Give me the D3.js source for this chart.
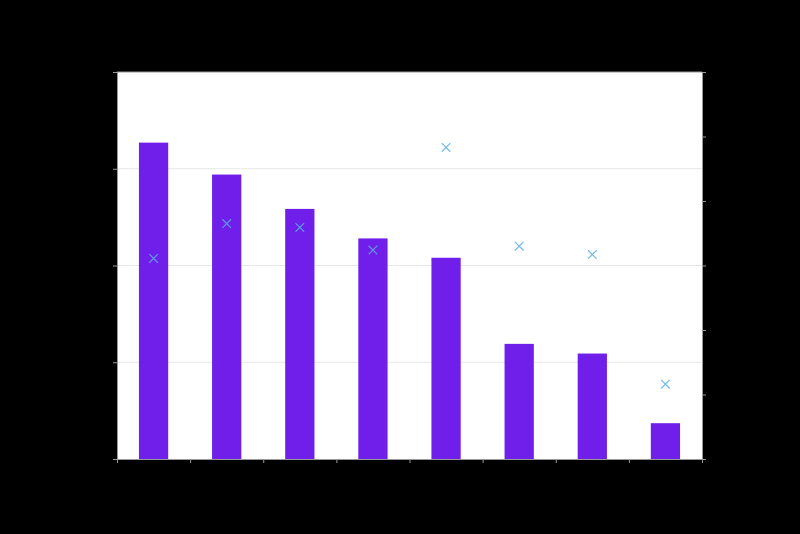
<!DOCTYPE html>
<html>
<head>
<meta charset="utf-8">
<script src="https://cdn.jsdelivr.net/npm/d3@7"></script>
<style>
  html, body { margin: 0; padding: 0; background: #000; }
  svg { display: block; }
  text { font-family: "DejaVu Sans", sans-serif; font-size: 11px; }
</style>
</head>
<body>
<svg id="chart" width="800" height="534"></svg>
<script>
// Data (axis labels are black on black in the original)
var categories = ["1", "2", "3", "4", "5", "6", "7", "8"];
var barValues = [3.27, 2.94, 2.585, 2.28, 2.08, 1.19, 1.09, 0.37];
var markerValues = [3.11, 3.65, 3.59, 3.24, 4.83, 3.30, 3.17, 1.16];
var leftTicks = [0, 1, 2, 3, 4];
var rightTicks = [0, 1, 2, 3, 4, 5, 6];

var svg = d3.select("#chart");

const margin = { top: 72, right: 98, bottom: 75, left: 117 };
const width = 800, height = 534;
const Innerwidth = width - margin.left - margin.right;
const Innerheight = height - margin.top - margin.bottom;

var g = svg.append("g")
    .attr("transform", `translate(${margin.left},${margin.top})`);

// plot background
g.append("rect")
    .attr("width", Innerwidth)
    .attr("height", Innerheight)
    .attr("fill", "#fff");

// Scales
var xBand = d3.scaleBand()
    .domain(categories)
    .range([0, Innerwidth])
    .paddingInner(0.6)
    .paddingOuter(0.3);

var xEdge = d3.scaleLinear()
    .domain([0, categories.length])
    .range([0, Innerwidth]);

var yLeft = d3.scaleLinear()
    .domain([0, 4])
    .range([Innerheight, 0]);

var yRight = d3.scaleLinear()
    .domain([0, 6])
    .range([Innerheight, 0]);

// gridlines
g.selectAll(".grid")
    .data(leftTicks.slice(1, -1))
    .enter()
    .append("line")
    .attr("class", "grid")
    .attr("x1", 0)
    .attr("x2", Innerwidth)
    .attr("y1", d => yLeft(d))
    .attr("y2", d => yLeft(d))
    .attr("stroke", "#e6e6e6")
    .attr("stroke-width", 1);

// bars
g.selectAll(".bar")
    .data(barValues)
    .enter()
    .append("rect")
    .attr("class", "bar")
    .attr("x", (d, i) => xBand(categories[i]))
    .attr("width", xBand.bandwidth())
    .attr("y", d => yLeft(d))
    .attr("height", d => Innerheight - yLeft(d))
    .attr("fill", "#6f1fe9");

// markers (x shapes) on right axis
var cross = d3.symbol().type(d3.symbolX).size(50);
g.selectAll(".marker")
    .data(markerValues)
    .enter()
    .append("path")
    .attr("class", "marker")
    .attr("d", cross)
    .attr("transform", (d, i) => `translate(${xBand(categories[i]) + xBand.bandwidth() / 2},${yRight(d)})`)
    .attr("fill", "none")
    .attr("stroke", "#5aaee8")
    .attr("stroke-opacity", 0.85)
    .attr("stroke-width", 1.2);

// top spine
g.append("line")
    .attr("x1", 0).attr("x2", Innerwidth)
    .attr("y1", 0).attr("y2", 0)
    .attr("stroke", "#999");

// Axes
var leftAxis = g.append("g")
    .call(d3.axisLeft(yLeft).tickValues(leftTicks).tickSize(4).tickFormat(d3.format("d")));

var rightAxis = g.append("g")
    .attr("transform", `translate(${Innerwidth},0)`)
    .call(d3.axisRight(yRight).tickValues(rightTicks).tickSize(4).tickFormat(d3.format("d")));

var bottomAxis = g.append("g")
    .attr("transform", `translate(0,${Innerheight})`)
    .call(d3.axisBottom(xEdge).tickValues(d3.range(categories.length + 1)).tickSize(4).tickFormat(""));

[leftAxis, rightAxis, bottomAxis].forEach(function (a) {
    a.select(".domain").attr("stroke", "#999");
    a.selectAll(".tick line").attr("stroke", "#999");
    a.selectAll(".tick text").attr("fill", "#000");
});
</script>
</body>
</html>
